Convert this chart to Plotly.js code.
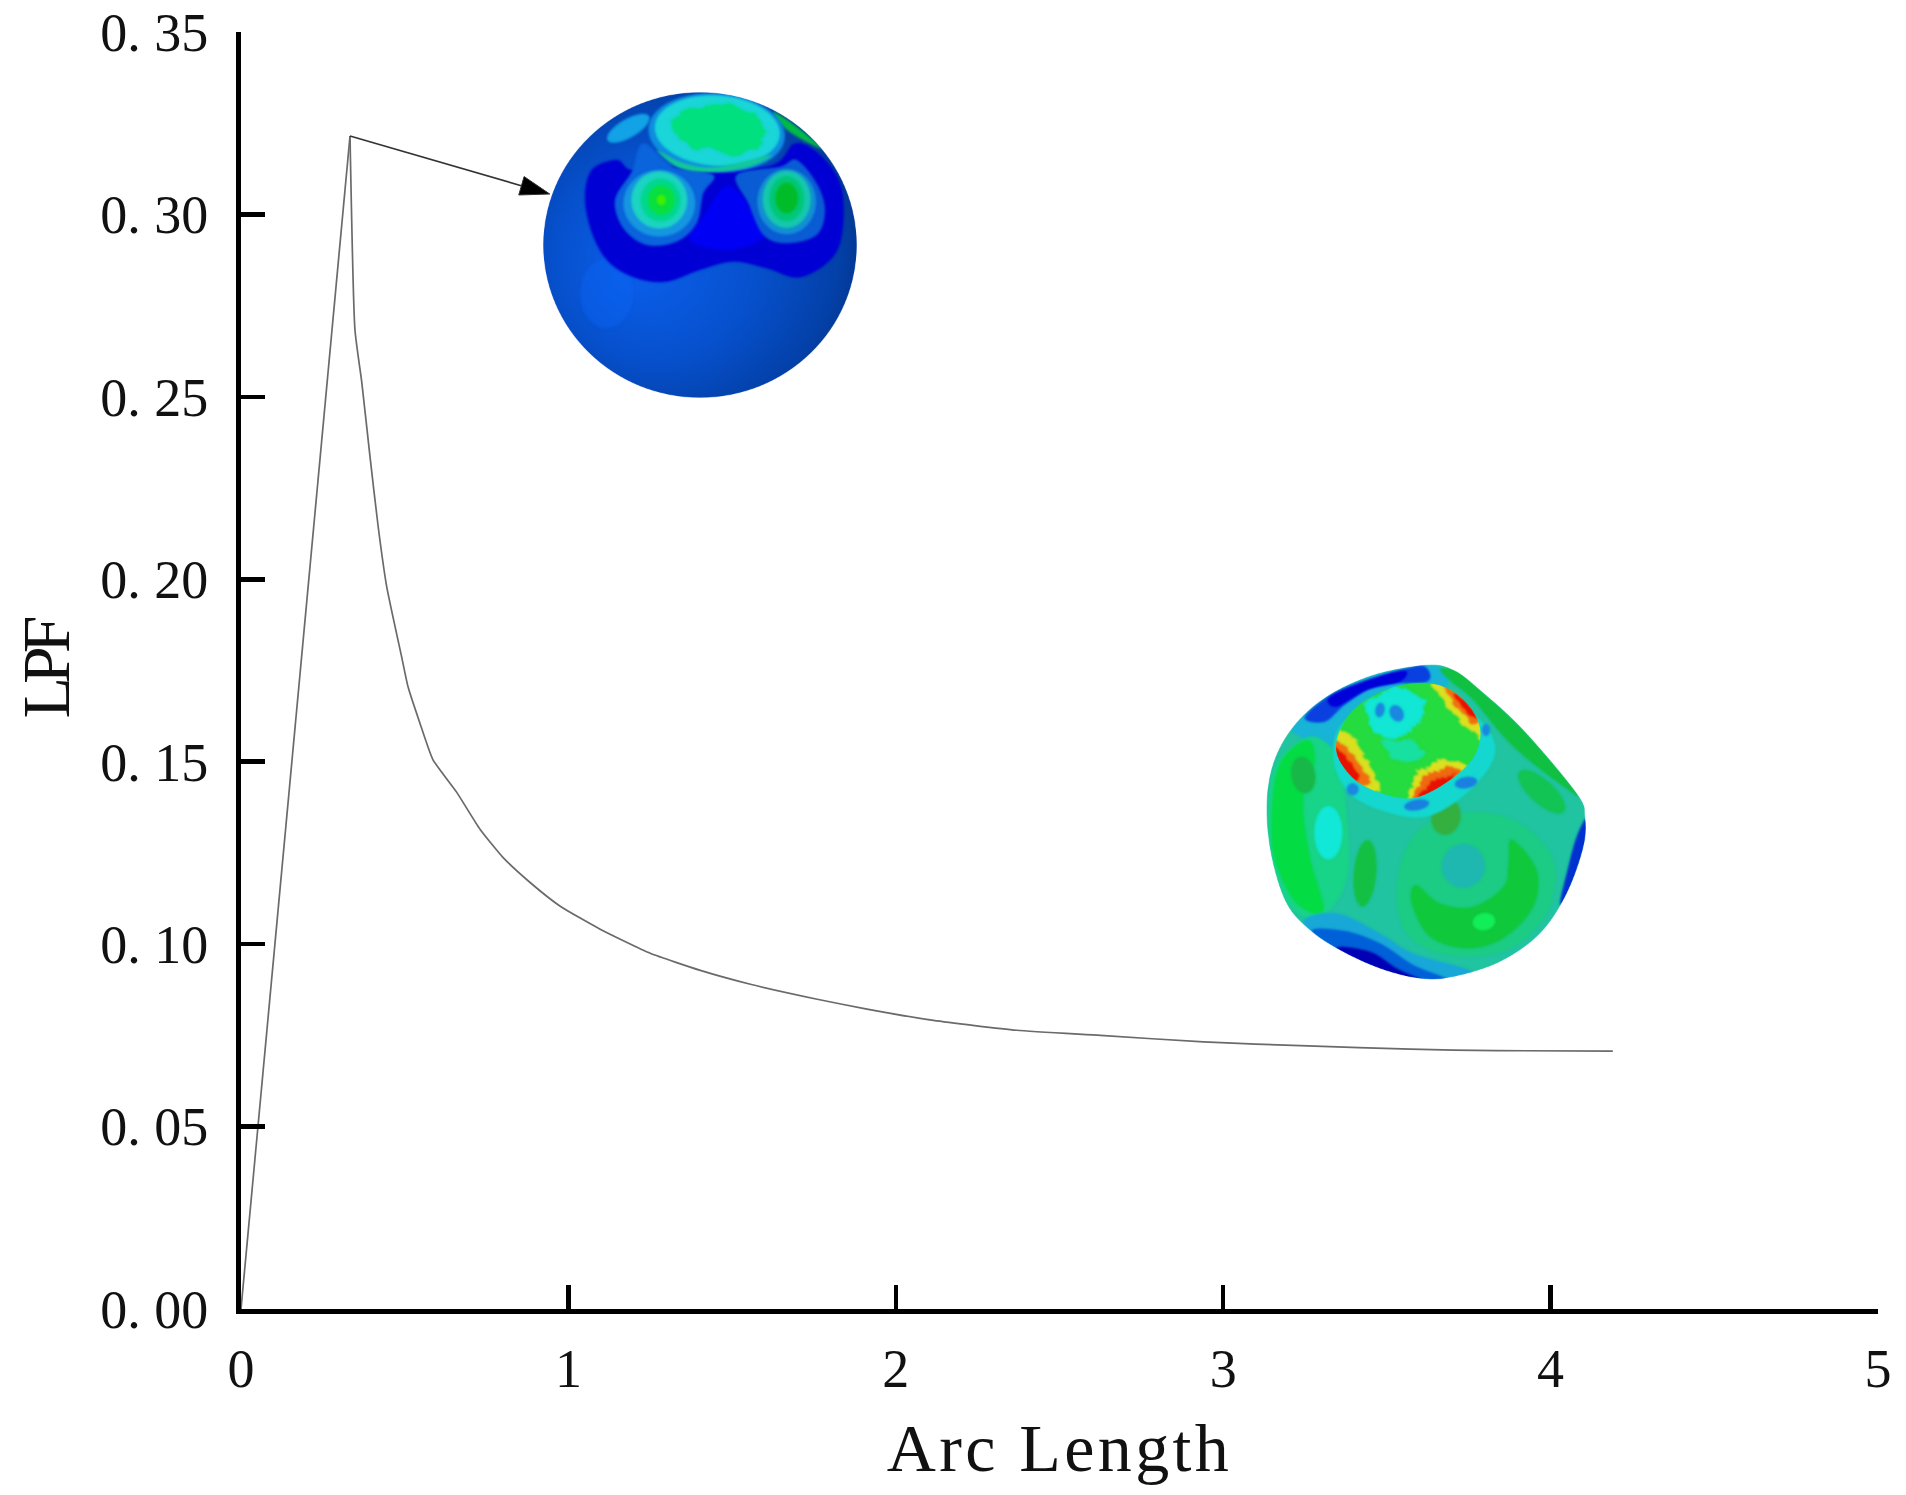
<!DOCTYPE html>
<html>
<head>
<meta charset="utf-8">
<script src="https://cdn.plot.ly/plotly-3.0.1.min.js"></script>
<style>
html, body { margin: 0; padding: 0; background: #fff; }
.xtitle { letter-spacing: 3.4px; }
.ytitle { letter-spacing: -7px; }
</style>
</head>
<body>
<div id="plot" style="width:1906px;height:1495px"></div>
<script>
// straight loading branch up to the peak
var riseArc = [0, 0.333];
var riseLpf = [0, 0.3215];

// softening branch after the peak
var decayArc = [0.333, 0.348, 0.369, 0.394, 0.419, 0.445, 0.491, 0.510, 0.546, 0.586,
  0.659, 0.730, 0.800, 0.883, 0.975, 1.097, 1.250, 1.403, 1.556, 1.760, 1.912, 2.115, 2.369,
  2.625, 2.940, 3.258, 3.572, 3.834, 4.190];
var decayLpf = [0.3215, 0.2684, 0.2539, 0.2336, 0.2144, 0.1980, 0.1786, 0.1706, 0.1607, 0.1506,
  0.1416, 0.1315, 0.1238, 0.1169, 0.1104, 0.1041, 0.0975, 0.0928, 0.0890, 0.0849, 0.0822, 0.0791, 0.0764,
  0.0750, 0.0732, 0.0721, 0.0712, 0.0708, 0.0707];

// leader from the peak to the upper inset
var leaderArc = [0.333, 0.943];
var leaderLpf = [0.3215, 0.3056];

var xTickVals = [0, 1, 2, 3, 4, 5];
var xTickText = ["0", "1", "2", "3", "4", "5"];
var yTickVals = [0, 0.05, 0.10, 0.15, 0.20, 0.25, 0.30, 0.35];
var yTickText = ["0. 00", "0. 05", "0. 10", "0. 15", "0. 20", "0. 25", "0. 30", "0. 35"];

var W = 1906, H = 1495;
var marginL = 241, marginR = 28, marginT = 32, marginB = 186;

// smooth closed blob through the given points, on a 3x canvas
function blob(ctx, pts, fill) {
  var n = pts.length;
  ctx.beginPath();
  ctx.moveTo(pts[0][0], pts[0][1]);
  for (var i = 0; i < n; i++) {
    var p0 = pts[(i - 1 + n) % n], p1 = pts[i], p2 = pts[(i + 1) % n], p3 = pts[(i + 2) % n];
    ctx.bezierCurveTo(p1[0] + (p2[0] - p0[0]) / 6, p1[1] + (p2[1] - p0[1]) / 6,
      p2[0] - (p3[0] - p1[0]) / 6, p2[1] - (p3[1] - p1[1]) / 6, p2[0], p2[1]);
  }
  ctx.closePath();
  if (fill) { ctx.fillStyle = fill; ctx.fill(); }
}

// same outline but with a jagged edge, for the noisy contour patches
function rough(ctx, pts, amp, fill) {
  var n = pts.length, k = 0;
  ctx.beginPath();
  for (var i = 0; i < n; i++) {
    var a = pts[i], b = pts[(i + 1) % n];
    var steps = Math.max(2, Math.round(Math.hypot(b[0] - a[0], b[1] - a[1]) / 9));
    for (var s = 0; s < steps; s++) {
      var t = s / steps;
      var jx = amp * Math.sin(k * 2.3) * Math.cos(k * 0.7);
      var jy = amp * Math.cos(k * 1.9) * Math.sin(k * 1.1);
      ctx.lineTo(a[0] + (b[0] - a[0]) * t + jx, a[1] + (b[1] - a[1]) * t + jy);
      k++;
    }
  }
  ctx.closePath();
  ctx.fillStyle = fill;
  ctx.fill();
}

function oval(ctx, x, y, rx, ry, rot, fill) {
  ctx.beginPath();
  ctx.ellipse(x, y, rx, ry, (rot || 0) * Math.PI / 180, 0, 2 * Math.PI);
  ctx.fillStyle = fill;
  ctx.fill();
}

function newCanvas() {
  var c = document.createElement("canvas");
  c.width = 1200; c.height = 1080;
  return c;
}

// undeformed shell, upper inset
function drawShellA() {
  var c = newCanvas(), ctx = c.getContext("2d");
  ctx.filter = "blur(3.5px)";
  ctx.save();
  ctx.beginPath();
  ctx.ellipse(600, 555, 470, 458, 0, 0, 2 * Math.PI);
  ctx.clip();

  var g = ctx.createRadialGradient(420, 620, 60, 530, 560, 620);
  g.addColorStop(0, "#0a5ce6");
  g.addColorStop(0.45, "#0650cc");
  g.addColorStop(0.8, "#0340a8");
  g.addColorStop(1, "#02307f");
  ctx.fillStyle = g;
  ctx.fillRect(0, 0, 1200, 1080);
  oval(ctx, 320, 700, 80, 105, 0, "rgba(12,100,245,0.45)");

  // dark band round the lobes
  blob(ctx, [[255,420],[275,330],[350,300],[395,330],[500,320],[800,320],[885,250],[960,285],[1020,370],[1030,490],
    [1000,590],[900,652],[800,625],[700,605],[600,630],[500,665],[410,655],[330,610],[280,530]], "#0000d4");
  blob(ctx, [[610,470],[680,378],[750,440],[790,530],[680,570],[570,540]], "#0000f5");

  // patch and sliver near the top
  oval(ctx, 385, 205, 72, 28, -30, "#12a2e6");
  blob(ctx, [[820,155],[890,200],[965,265],[900,235],[850,200]], "#00bb48");

  // necks joining the lobes to the cap
  blob(ctx, [[430,250],[520,320],[640,345],[610,400],[590,490],[530,545],[440,555],[370,505],[345,420],[395,335]], "#0a64dc");
  blob(ctx, [[710,345],[840,320],[890,300],[950,370],[975,450],[950,525],[860,550],[790,525],[745,430]], "#0a5cd4");

  // left lobe
  oval(ctx, 478, 430, 108, 100, 0, "#1696e0");
  oval(ctx, 478, 420, 84, 86, 0, "#1cd4c2");
  oval(ctx, 482, 420, 60, 64, 0, "#00d88c");
  oval(ctx, 484, 420, 40, 44, 0, "#08e040");
  oval(ctx, 484, 420, 14, 16, 0, "#40f000");

  // right lobe
  oval(ctx, 860, 425, 88, 98, 0, "#1290d4");
  oval(ctx, 860, 418, 72, 86, 0, "#16c8ae");
  oval(ctx, 860, 416, 52, 68, 0, "#00c878");
  oval(ctx, 860, 414, 34, 46, 0, "#00bc28");

  // punch cap
  oval(ctx, 650, 218, 205, 118, 4, "#0e8ee0");
  oval(ctx, 652, 212, 188, 106, 4, "#1ad6d8");
  rough(ctx, [[550,150],[680,128],[770,165],[800,215],[775,265],[690,292],[640,262],[590,270],[540,240],[510,190]], 7, "#00e07e");
  blob(ctx, [[470,270],[540,305],[620,322],[700,312],[815,285],[750,320],[640,336],[540,325]], "#14c89a");
  ctx.restore();
  return c.toDataURL("image/png");
}

// deformed shell, lower inset
function drawShellB() {
  var c = newCanvas(), ctx = c.getContext("2d");
  var outline = [[560,75],[640,90],[720,150],[850,270],[1010,460],[1035,530],[1030,620],[980,760],[900,880],[780,965],
    [640,1010],[540,1015],[420,985],[300,930],[210,870],[140,790],[95,650],[80,500],[100,370],[160,260],[260,170],[400,105]];
  ctx.filter = "blur(3px)";
  ctx.save();
  blob(ctx, outline);
  ctx.clip();

  ctx.fillStyle = "#20c4a0";
  ctx.fillRect(0, 0, 1200, 1080);

  // upper rim
  blob(ctx, [[160,260],[260,170],[400,105],[560,75],[620,100],[600,150],[400,170],[300,260],[260,340],[180,290]], "#18b4d8");
  blob(ctx, [[195,230],[300,150],[490,88],[555,80],[560,125],[420,135],[320,190],[255,245]], "#0a40e0");
  blob(ctx, [[270,170],[400,115],[495,92],[480,125],[380,150],[290,200]], "#0000d8");

  // left side
  blob(ctx, [[85,500],[110,370],[210,290],[290,350],[320,520],[320,720],[240,830],[150,800],[95,660]], "#18d488");
  blob(ctx, [[95,520],[120,370],[200,300],[225,360],[190,480],[210,650],[250,810],[170,790],[105,660]], "#04dc44");
  oval(ctx, 190, 405, 36, 55, -10, "#18b848");
  oval(ctx, 265, 578, 42, 80, 0, "#12e8d8");
  oval(ctx, 375, 700, 34, 100, 5, "#14c044");

  // right upper ribbon and blob
  blob(ctx, [[600,88],[660,95],[720,150],[850,270],[1005,450],[985,450],[820,320],[700,180],[640,130]], "#10c040");
  oval(ctx, 905, 455, 90, 36, 42, "#12c454");

  // large lower region
  blob(ctx, [[520,590],[650,520],[820,540],[940,660],[920,820],[800,930],[620,945],[500,880],[470,740]], "#1ccc84");
  blob(ctx, [[815,598],[890,690],[880,800],[790,895],[680,925],[570,890],[515,790],[528,735],[600,790],[700,800],[790,740],[805,670]], "#10c83c");
  oval(ctx, 670, 678, 65, 66, 0, "#1eb8b0");
  oval(ctx, 732, 845, 34, 26, -10, "#12ee58");
  oval(ctx, 618, 530, 44, 55, 10, "#34b040");

  // blue strip at lower right edge
  blob(ctx, [[1040,535],[1035,620],[985,760],[960,790],[985,680],[1010,590]], "#0030d0");

  // lower left bands
  blob(ctx, [[190,850],[290,820],[420,880],[520,940],[700,1000],[540,1040],[300,960]], "#18a8d8");
  blob(ctx, [[220,880],[310,872],[420,910],[520,975],[620,1020],[450,1010]], "#0060d8");
  blob(ctx, [[290,925],[390,935],[470,985],[540,1020],[420,1000]], "#0000b4");

  // collar and small blue spots under the punch
  blob(ctx, [[280,340],[330,230],[560,135],[720,240],[765,340],[690,450],[560,530],[420,510],[320,450]], "#14d8d0");
  oval(ctx, 530, 495, 38, 16, -10, "#1a80e0");
  oval(ctx, 678, 428, 34, 17, -10, "#1a80e0");
  oval(ctx, 338, 448, 18, 18, 0, "#1a88e0");
  oval(ctx, 738, 270, 12, 18, 0, "#1a88e0");

  // contact patch
  var rim = [[288,320],[335,215],[450,145],[570,130],[660,170],[718,255],[705,345],[630,420],[520,474],[410,455],[330,405]];
  ctx.save();
  blob(ctx, rim);
  ctx.clip();
  ctx.fillStyle = "#24dc40";
  ctx.fillRect(0, 0, 1200, 1080);
  rough(ctx, [[370,190],[470,135],[560,180],[540,250],[470,300],[400,280]], 7, "#12e6d4");
  rough(ctx, [[420,300],[520,300],[560,345],[500,370],[450,350]], 7, "#18e0a0");
  oval(ctx, 420, 210, 14, 22, 10, "#1a88e0");
  oval(ctx, 470, 220, 20, 26, -30, "#1a88e0");

  // yellow, orange and red edge patches
  rough(ctx, [[280,270],[335,280],[395,385],[425,450],[340,460],[270,380]], 9, "#d8e020");
  rough(ctx, [[280,300],[320,320],[375,395],[395,430],[330,440],[270,370]], 7, "#f07010");
  rough(ctx, [[280,320],[315,345],[360,410],[345,430],[295,390]], 6, "#e81000");
  rough(ctx, [[500,480],[530,395],[610,355],[680,375],[650,445],[570,495]], 9, "#dce020");
  rough(ctx, [[515,475],[550,410],[620,380],[670,390],[625,445],[560,490]], 7, "#f06810");
  rough(ctx, [[525,480],[575,425],[650,400],[615,450],[560,490]], 6, "#e81000");
  rough(ctx, [[575,130],[650,130],[735,240],[725,300],[660,245],[610,185]], 9, "#dce020");
  rough(ctx, [[610,140],[665,155],[730,245],[695,250],[640,190]], 7, "#f07010");
  rough(ctx, [[640,160],[685,190],[715,235],[680,220]], 5, "#e81000");
  ctx.restore();
  ctx.restore();
  return c.toDataURL("image/png");
}

var plotW = W - marginL - marginR, plotH = H - marginT - marginB;

var insets = [
  { source: drawShellA(), xref: "paper", yref: "paper",
    x: (500 - marginL) / plotW, y: (H - marginB - 60) / plotH,
    sizex: 400 / plotW, sizey: 360 / plotH, sizing: "stretch",
    xanchor: "left", yanchor: "top", layer: "below" },
  { source: drawShellB(), xref: "paper", yref: "paper",
    x: (1240 - marginL) / plotW, y: (H - marginB - 640) / plotH,
    sizex: 400 / plotW, sizey: 360 / plotH, sizing: "stretch",
    xanchor: "left", yanchor: "top", layer: "below" }
];

var traceRise = {
  x: riseArc, y: riseLpf, type: "scatter", mode: "lines",
  line: { color: "#6a6a6a", width: 1.7 }, hoverinfo: "skip"
};
var traceDecay = {
  x: decayArc, y: decayLpf, type: "scatter", mode: "lines",
  line: { color: "#6a6a6a", width: 1.7, shape: "spline", smoothing: 0.5 }, hoverinfo: "skip"
};
var traceLeader = {
  x: leaderArc, y: leaderLpf, type: "scatter", mode: "lines+markers",
  line: { color: "#333", width: 1.6 },
  marker: { symbol: "arrow", angleref: "previous", size: [0, 31], color: "#000", opacity: 1 },
  hoverinfo: "skip"
};

var axisFont = { family: "Liberation Serif", size: 54, color: "#111" };
var titleFont = { family: "Liberation Serif", size: 68, color: "#111" };

var layout = {
  width: W,
  height: H,
  margin: { l: marginL, r: marginR, t: marginT, b: marginB, pad: 0 },
  paper_bgcolor: "#fff",
  plot_bgcolor: "rgba(0,0,0,0)",
  showlegend: false,
  images: insets,
  xaxis: {
    range: [0, 5], tickmode: "array", tickvals: xTickVals, ticktext: xTickText,
    ticks: "inside", ticklen: 24, tickwidth: 4.5, tickcolor: "#000",
    showline: true, linecolor: "#000", linewidth: 5, showgrid: false, zeroline: false,
    tickfont: axisFont, ticklabelstandoff: 8,
    title: { text: "Arc Length", font: titleFont, standoff: 27 }
  },
  yaxis: {
    range: [0, 0.35], tickmode: "array", tickvals: yTickVals, ticktext: yTickText,
    ticks: "inside", ticklen: 24, tickwidth: 4.5, tickcolor: "#000",
    showline: true, linecolor: "#000", linewidth: 5, showgrid: false, zeroline: false,
    tickfont: axisFont, ticklabelstandoff: 17,
    title: { text: "LPF", font: titleFont, standoff: 10 }
  }
};

Plotly.newPlot("plot", [traceRise, traceDecay, traceLeader], layout, { displayModeBar: false, staticPlot: true });
</script>
</body>
</html>
